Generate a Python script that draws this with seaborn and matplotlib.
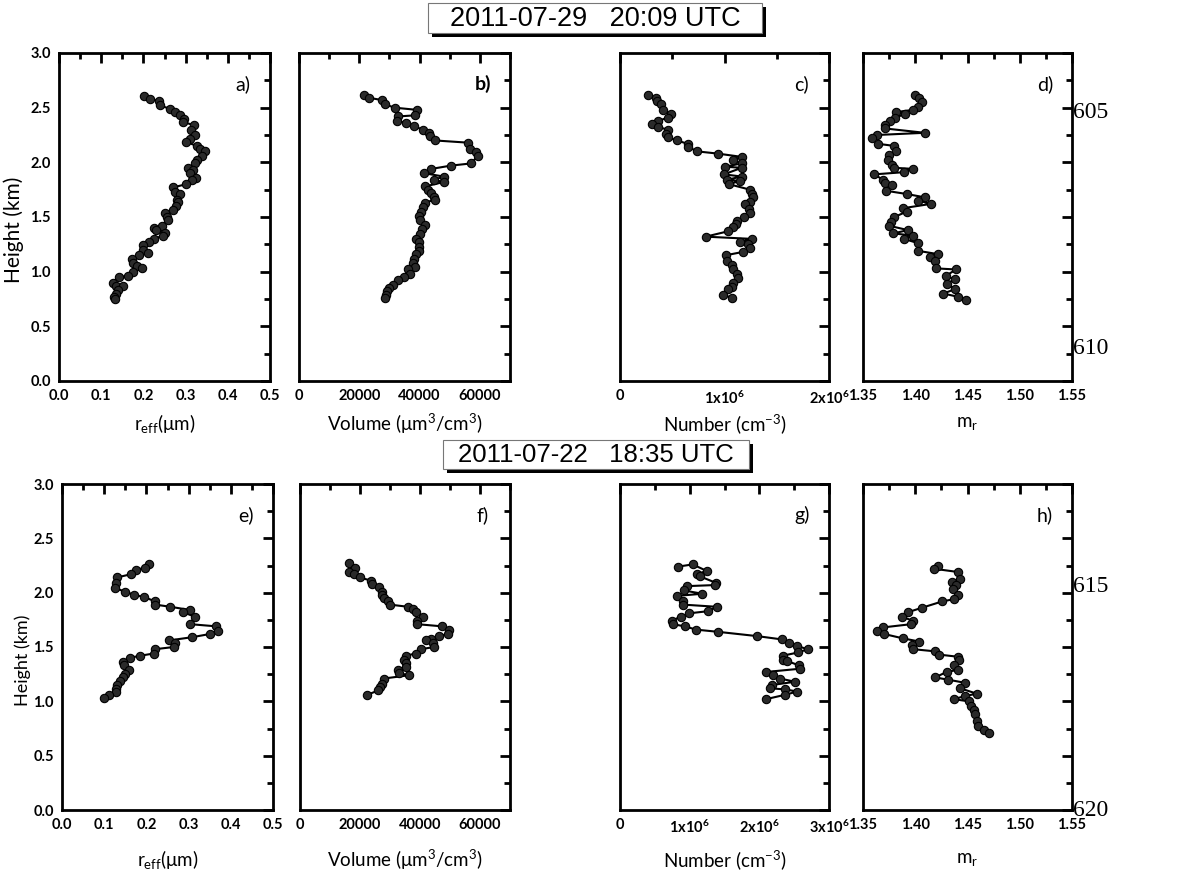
import matplotlib
matplotlib.use("Agg")
import matplotlib.pyplot as plt
from matplotlib.patches import Rectangle
from matplotlib.ticker import MultipleLocator, FuncFormatter
import seaborn as sns

sns.set_theme(style="white")
plt.rcParams["font.family"] = ["Lato", "DejaVu Sans"]
plt.rcParams["font.weight"] = "bold"
plt.rcParams["mathtext.default"] = "regular"

# ---- 2011-07-29 20:09 UTC profiles ----
h_a = [2.61, 2.58, 2.56, 2.52, 2.49, 2.46, 2.43, 2.40, 2.37, 2.34, 2.30, 2.25, 2.21, 2.19, 2.15,
       2.12, 2.10, 2.06, 2.02, 1.99, 1.95, 1.93, 1.90, 1.86, 1.84, 1.80, 1.77, 1.73, 1.71, 1.66,
       1.64, 1.60, 1.56, 1.54, 1.50, 1.47, 1.42, 1.40, 1.38, 1.35, 1.33, 1.30, 1.27, 1.24, 1.20,
       1.17, 1.15, 1.12, 1.08, 1.05, 1.03, 1.00, 0.96, 0.95, 0.90, 0.87, 0.87, 0.83, 0.80, 0.77, 0.75]
reff_a = [0.201, 0.216, 0.238, 0.239, 0.263, 0.275, 0.287, 0.296, 0.293, 0.320, 0.312, 0.322, 0.310, 0.300, 0.326,
          0.333, 0.347, 0.338, 0.326, 0.322, 0.306, 0.318, 0.310, 0.324, 0.314, 0.302, 0.269, 0.275, 0.287, 0.279,
          0.283, 0.277, 0.269, 0.250, 0.255, 0.259, 0.243, 0.225, 0.230, 0.250, 0.246, 0.226, 0.213, 0.200, 0.198,
          0.212, 0.190, 0.172, 0.176, 0.184, 0.196, 0.176, 0.164, 0.141, 0.127, 0.135, 0.152, 0.139, 0.135, 0.131, 0.133]

h_b = [2.62, 2.59, 2.57, 2.53, 2.50, 2.48, 2.43, 2.42, 2.38, 2.36, 2.33, 2.30, 2.27, 2.24, 2.20,
       2.18, 2.12, 2.09, 2.06, 1.99, 1.97, 1.94, 1.90, 1.87, 1.84, 1.82, 1.78, 1.75, 1.72, 1.68,
       1.66, 1.63, 1.59, 1.55, 1.51, 1.47, 1.43, 1.39, 1.34, 1.30, 1.27, 1.23, 1.19, 1.16, 1.12,
       1.08, 1.04, 1.02, 0.98, 0.95, 0.92, 0.88, 0.85, 0.82, 0.79, 0.76]
vol_b = [21700, 23300, 27400, 28600, 31700, 39100, 38600, 33000, 32400, 35600, 38000, 41100, 43000, 43600, 45200,
         56000, 56700, 58600, 59300, 57100, 50400, 43900, 41600, 48000, 44700, 48000, 41900, 42700, 43900, 44700,
         45000, 41900, 41300, 40400, 39700, 40200, 41900, 40800, 40000, 38800, 39700, 39700, 39700, 38900, 38200,
         37800, 38600, 36000, 36700, 34700, 33000, 31300, 30000, 29300, 28800, 28600]

h_c = [2.62, 2.59, 2.56, 2.53, 2.48, 2.44, 2.41, 2.38, 2.35, 2.32, 2.30, 2.26, 2.23, 2.20, 2.17,
       2.14, 2.10, 2.08, 2.05, 2.02, 1.99, 1.96, 1.95, 1.89, 1.87, 1.84, 1.83, 1.80, 1.75, 1.71,
       1.68, 1.64, 1.62, 1.57, 1.54, 1.50, 1.46, 1.44, 1.41, 1.37, 1.32, 1.30, 1.27, 1.25, 1.22,
       1.18, 1.15, 1.10, 1.06, 1.02, 0.98, 0.94, 0.90, 0.86, 0.84, 0.79, 0.76]
num_c = [0.271, 0.341, 0.351, 0.392, 0.408, 0.488, 0.462, 0.367, 0.303, 0.367, 0.462, 0.437, 0.462, 0.542, 0.648,
         0.654, 0.740, 0.935, 1.164, 1.085, 1.164, 1.005, 1.164, 0.995, 1.164, 1.021, 1.148, 1.043, 1.244, 1.266,
         1.270, 1.244, 1.196, 1.238, 1.244, 1.190, 1.116, 1.106, 1.085, 1.037, 0.820, 1.260, 1.148, 1.228, 1.244,
         1.174, 1.011, 1.021, 1.069, 1.085, 1.116, 1.132, 1.085, 1.069, 1.037, 0.989, 1.069]  # x 1e6

h_d = [2.62, 2.59, 2.55, 2.51, 2.48, 2.46, 2.44, 2.41, 2.38, 2.34, 2.31, 2.27, 2.25, 2.22, 2.17,
       2.15, 2.10, 2.07, 2.02, 1.98, 1.95, 1.94, 1.91, 1.89, 1.84, 1.81, 1.79, 1.74, 1.71, 1.68,
       1.65, 1.62, 1.58, 1.55, 1.50, 1.45, 1.42, 1.38, 1.35, 1.33, 1.30, 1.26, 1.19, 1.16, 1.13,
       1.10, 1.03, 1.02, 0.96, 0.93, 0.89, 0.84, 0.80, 0.77, 0.74]
mr_d = [1.400, 1.404, 1.406, 1.403, 1.398, 1.382, 1.390, 1.381, 1.376, 1.371, 1.371, 1.409, 1.363, 1.359, 1.364,
        1.380, 1.382, 1.375, 1.374, 1.378, 1.380, 1.398, 1.389, 1.361, 1.369, 1.371, 1.378, 1.372, 1.392, 1.409,
        1.403, 1.415, 1.388, 1.392, 1.380, 1.377, 1.375, 1.393, 1.379, 1.398, 1.389, 1.403, 1.403, 1.422, 1.414,
        1.419, 1.420, 1.439, 1.429, 1.438, 1.430, 1.438, 1.427, 1.441, 1.449]

# ---- 2011-07-22 18:35 UTC profiles ----
h_e = [2.26, 2.23, 2.21, 2.17, 2.14, 2.09, 2.04, 2.01, 1.98, 1.96, 1.92, 1.89, 1.87, 1.84, 1.82,
       1.78, 1.71, 1.69, 1.65, 1.62, 1.59, 1.56, 1.54, 1.50, 1.48, 1.44, 1.42, 1.40, 1.36, 1.33,
       1.29, 1.25, 1.22, 1.19, 1.15, 1.11, 1.09, 1.06, 1.03]
reff_e = [0.205, 0.197, 0.176, 0.164, 0.130, 0.129, 0.126, 0.150, 0.170, 0.195, 0.220, 0.221, 0.257, 0.304, 0.287,
          0.314, 0.304, 0.366, 0.369, 0.351, 0.308, 0.253, 0.267, 0.265, 0.221, 0.217, 0.186, 0.160, 0.144, 0.148,
          0.158, 0.150, 0.145, 0.137, 0.130, 0.129, 0.129, 0.111, 0.099]

h_f = [2.27, 2.23, 2.19, 2.17, 2.14, 2.11, 2.08, 2.05, 2.01, 1.98, 1.95, 1.92, 1.89, 1.87, 1.85,
       1.82, 1.78, 1.74, 1.71, 1.69, 1.66, 1.62, 1.60, 1.57, 1.56, 1.54, 1.50, 1.48, 1.44, 1.42,
       1.38, 1.35, 1.32, 1.29, 1.26, 1.24, 1.21, 1.16, 1.13, 1.10, 1.06]
vol_f = [16300, 18300, 16300, 18000, 19900, 23800, 24100, 26300, 27200, 27400, 28000, 29400, 30000, 36000, 37800,
         38600, 41100, 38900, 39100, 47400, 49700, 49400, 46300, 43600, 42100, 44300, 44700, 40400, 38600, 35200,
         34700, 35200, 35200, 32700, 33000, 36300, 28000, 27200, 26600, 26100, 22400]

h_g = [2.24, 2.26, 2.20, 2.17, 2.15, 2.09, 2.07, 2.06, 2.02, 1.99, 1.97, 1.92, 1.89, 1.87, 1.83,
       1.81, 1.78, 1.74, 1.71, 1.69, 1.66, 1.64, 1.60, 1.57, 1.54, 1.51, 1.48, 1.45, 1.42, 1.38,
       1.37, 1.33, 1.30, 1.27, 1.24, 1.21, 1.18, 1.15, 1.12, 1.11, 1.09, 1.06, 1.02]
num_g = [0.837, 1.043, 1.244, 1.100, 1.148, 1.378, 1.364, 0.957, 0.919, 1.182, 0.813, 0.900, 0.909, 1.388, 1.268,
         0.995, 0.871, 0.742, 0.756, 0.933, 1.091, 1.402, 1.971, 2.321, 2.426, 2.536, 2.694, 2.560, 2.335, 2.335,
         2.402, 2.574, 2.584, 2.096, 2.191, 2.297, 2.512, 2.177, 2.153, 2.368, 2.545, 2.368, 2.096]  # x 1e6

h_h = [2.25, 2.22, 2.19, 2.13, 2.10, 2.07, 2.03, 1.98, 1.94, 1.92, 1.86, 1.82, 1.78, 1.74, 1.71,
       1.68, 1.65, 1.62, 1.58, 1.55, 1.52, 1.48, 1.46, 1.43, 1.41, 1.38, 1.33, 1.29, 1.27, 1.22,
       1.20, 1.17, 1.12, 1.07, 1.05, 1.02, 1.00, 0.96, 0.92, 0.88, 0.82, 0.77, 0.74, 0.71]
mr_h = [1.422, 1.418, 1.441, 1.443, 1.435, 1.439, 1.436, 1.441, 1.437, 1.426, 1.406, 1.393, 1.387, 1.398, 1.396,
        1.369, 1.363, 1.370, 1.388, 1.404, 1.397, 1.398, 1.419, 1.423, 1.441, 1.442, 1.437, 1.441, 1.430, 1.419,
        1.431, 1.448, 1.443, 1.459, 1.448, 1.437, 1.451, 1.453, 1.456, 1.457, 1.459, 1.460, 1.466, 1.471]

titles = ["2011-07-29   20:09 UTC", "2011-07-22   18:35 UTC"]
panel_tags = ["a)", "b)", "c)", "d)", "e)", "f)", "g)", "h)"]
margin_numbers = ["605", "610", "615", "620"]

W, H = 1194, 881
fig = plt.figure(figsize=(W / 100, H / 100), dpi=100)


def box(l, r, t, b):
    return [l / W, 1 - b / H, (r - l) / W, (b - t) / H]


def fmt_num(v, pos):
    if abs(v) < 1:
        return "0"
    return "%dx10$^{6}$" % round(v / 1e6)


def profile(ax, x, h, xlim, major, minor, xfmt, xlabel, tag, row, show_y):
    sns.lineplot(x=x, y=h, ax=ax, sort=False, estimator=None, color="black", lw=1.5,
                 marker="o", ms=6, mfc="#2a2a2a", mec="black", mew=0.8)
    ax.set_xlim(*xlim)
    ax.set_ylim(0, 3.0)
    ax.xaxis.set_major_locator(MultipleLocator(major))
    ax.xaxis.set_minor_locator(MultipleLocator(minor))
    ax.yaxis.set_major_locator(MultipleLocator(0.5))
    ax.yaxis.set_minor_locator(MultipleLocator(0.25))
    ax.xaxis.set_major_formatter(xfmt)
    ax.yaxis.set_major_formatter(FuncFormatter(lambda v, p: "%.1f" % v))
    ax.tick_params(which="both", direction="in", top=True, right=True, width=2,
                   color="black", labelsize=10.5, pad=6, labelcolor="black")
    ax.tick_params(which="major", length=7)
    ax.tick_params(which="minor", length=4)
    if not show_y:
        ax.tick_params(labelleft=False)
    for sp in ax.spines.values():
        sp.set_linewidth(2)
        sp.set_color("black")
    ax.set_xlabel(xlabel, fontsize=13.5, fontweight="normal", color="black")
    ax.xaxis.label.set_va("center")
    ax.xaxis.set_label_coords(0.5, -0.131 if row == 0 else -0.153)
    if show_y:
        ax.set_ylabel("Height (km)", fontsize=15 if row == 0 else 13, fontweight="normal", color="black")
        ax.yaxis.label.set_va("center")
        ax.yaxis.set_label_coords(-0.215 if row == 0 else -0.185, 0.46)
    else:
        ax.set_ylabel("")
    ax.text(0.87, 0.905, tag, transform=ax.transAxes, ha="center", va="center", fontsize=14,
            fontweight="bold" if tag == "b)" else "normal", color="black")


lab_r = "r$_{eff}$(μm)"
lab_v = "Volume (μm$^{3}$/cm$^{3}$)"
lab_n = "Number (cm$^{-3}$)"
lab_m = "m$_{r}$"
f1 = FuncFormatter(lambda v, p: "%.1f" % v)
f0 = FuncFormatter(lambda v, p: "%d" % round(v))
f2 = FuncFormatter(lambda v, p: "%.2f" % v)
fn = FuncFormatter(fmt_num)

rows = [
    (53, 381, [(59, 270), (299, 510), (620, 829), (863, 1072)],
     [(reff_a, h_a, (0, 0.5), 0.1, 0.05, f1, lab_r),
      (vol_b, h_b, (0, 70000), 20000, 10000, f0, lab_v),
      ([v * 1e6 for v in num_c], h_c, (0, 2e6), 1e6, 5e5, fn, lab_n),
      (mr_d, h_d, (1.35, 1.55), 0.05, 0.025, f2, lab_m)]),
    (484, 810, [(62, 273), (300, 510), (620, 829), (863, 1072)],
     [(reff_e, h_e, (0, 0.5), 0.1, 0.05, f1, lab_r),
      (vol_f, h_f, (0, 70000), 20000, 10000, f0, lab_v),
      ([v * 1e6 for v in num_g], h_g, (0, 3e6), 1e6, 5e5, fn, lab_n),
      (mr_h, h_h, (1.35, 1.55), 0.05, 0.025, f2, lab_m)]),
]

for r, (top, bot, cols, panels) in enumerate(rows):
    for c, ((l, rr), spec) in enumerate(zip(cols, panels)):
        ax = fig.add_axes(box(l, rr, top, bot))
        x, h, xlim, major, minor, xfmt, xlabel = spec
        profile(ax, x, h, xlim, major, minor, xfmt, xlabel, panel_tags[r * 4 + c], r, c == 0)

# date boxes with drop shadow
for (x0, x1, y0, y1), txt, fs in zip([(428, 762, 3, 33), (443, 749, 440, 469)], titles, [19.5, 18.5]):
    fig.add_artist(Rectangle(((x0 + 4) / W, 1 - (y1 + 4) / H), (x1 - x0) / W, (y1 - y0) / H,
                             transform=fig.transFigure, fc="black", ec="black", lw=0))
    fig.add_artist(Rectangle((x0 / W, 1 - y1 / H), (x1 - x0) / W, (y1 - y0) / H,
                             transform=fig.transFigure, fc="white", ec="#777777", lw=0.8))
    fig.text((x0 + x1) / 2 / W, 1 - ((y0 + y1) / 2 + 1) / H, txt, ha="center", va="center",
             family="Liberation Sans", fontsize=fs, fontweight="normal", color="black")

# manuscript line numbers in the right margin
for txt, y in zip(margin_numbers, [113, 348, 587, 810]):
    fig.text(1073 / W, 1 - y / H, txt, ha="left", va="center", family="Liberation Serif",
             fontsize=17, fontweight="normal", color="black")

fig.savefig("out.png", dpi=100, facecolor="white")
